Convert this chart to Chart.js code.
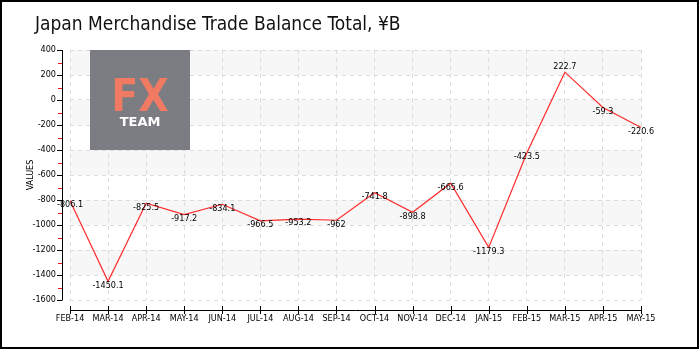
<!DOCTYPE html>
<html>
<head>
<meta charset="utf-8">
<script src="https://cdn.jsdelivr.net/npm/chart.js@4"></script>
<style>
  html, body { margin: 0; padding: 0; background: #fff; }
  #wrap { width: 700px; height: 350px; position: relative; }
</style>
</head>
<body>
<div id="wrap"><canvas id="chart" width="700" height="350"></canvas></div>
<script>
const chartTitle = "Japan Merchandise Trade Balance Total, ¥B";
const axisLabel = "VALUES";
const months = ["FEB-14", "MAR-14", "APR-14", "MAY-14", "JUN-14", "JUL-14", "AUG-14", "SEP-14",
  "OCT-14", "NOV-14", "DEC-14", "JAN-15", "FEB-15", "MAR-15", "APR-15", "MAY-15"];
const balance = [-806.1, -1450.1, -825.5, -917.2, -834.1, -966.5, -953.2, -962,
  -741.8, -898.8, -665.6, -1179.3, -423.5, 222.7, -59.3, -220.6];
const yMin = -1600;
const yMax = 400;
const yStep = 200;

const smallFont = '9px "Liberation Sans Narrow", "DejaVu Sans Condensed", sans-serif';

const decor = {
  id: "decor",
  beforeDraw(chart) {
    const { ctx, chartArea: a, scales: { y } } = chart;
    ctx.save();
    ctx.fillStyle = "#fff";
    ctx.fillRect(0, 0, chart.width, chart.height);
    // alternating bands
    ctx.fillStyle = "#f7f7f7";
    const ticks = y.ticks.map((t) => t.value).sort((p, q) => p - q);
    for (let i = 1; i < ticks.length; i += 2) {
      const top = y.getPixelForValue(ticks[i + 1] ?? ticks[i]);
      const bot = y.getPixelForValue(ticks[i]);
      ctx.fillRect(a.left, top, a.right - a.left, bot - top);
    }
    ctx.restore();
  },
  beforeDatasetsDraw(chart) {
    // FX TEAM logo
    const { ctx, chartArea: a } = chart;
    ctx.save();
    ctx.fillStyle = "#7c7c83";
    ctx.fillRect(a.left + 20, a.top, 100, 100);
    ctx.textAlign = "center";
    ctx.textBaseline = "alphabetic";
    ctx.fillStyle = "#f07a62";
    ctx.font = 'bold 44px "DejaVu Sans Condensed", "DejaVu Sans", sans-serif';
    ctx.fillText("FX", a.left + 70, a.top + 61);
    ctx.fillStyle = "#fff";
    ctx.font = 'bold 13px "DejaVu Sans", sans-serif';
    ctx.fillText("TEAM", a.left + 70, a.top + 76);
    ctx.restore();
  },
  afterDatasetsDraw(chart) {
    const { ctx } = chart;
    const meta = chart.getDatasetMeta(0);
    const top = Math.max(...balance);
    ctx.save();
    ctx.font = smallFont;
    ctx.fillStyle = "#000";
    ctx.textAlign = "center";
    ctx.textBaseline = "middle";
    meta.data.forEach((pt, i) => {
      const dy = balance[i] === top ? -6 : 4;
      ctx.fillText(String(balance[i]), pt.x, pt.y + dy);
    });
    ctx.restore();
  },
  afterDraw(chart) {
    const { ctx, chartArea: a, scales: { x, y } } = chart;
    ctx.save();
    // axes
    const ax = a.left - 8;
    const ay = a.bottom + 10;
    ctx.strokeStyle = "#000";
    ctx.lineWidth = 1;
    ctx.beginPath();
    ctx.moveTo(ax + 0.5, a.top);
    ctx.lineTo(ax + 0.5, a.bottom + 0.5);
    ctx.moveTo(a.left, ay + 0.5);
    ctx.lineTo(a.right, ay + 0.5);
    x.ticks.forEach((t, i) => {
      const px = Math.round(x.getPixelForTick(i)) + 0.5;
      ctx.moveTo(px, ay - 4);
      ctx.lineTo(px, ay + 4);
    });
    y.ticks.forEach((t) => {
      const py = Math.round(y.getPixelForValue(t.value)) + 0.5;
      ctx.moveTo(ax - 5, py);
      ctx.lineTo(ax, py);
    });
    ctx.stroke();
    // minor ticks
    ctx.strokeStyle = "#e8141a";
    ctx.beginPath();
    for (let v = yMin + yStep / 2; v < yMax; v += yStep) {
      const py = Math.round(y.getPixelForValue(v)) + 0.5;
      ctx.moveTo(ax - 4, py);
      ctx.lineTo(ax, py);
    }
    ctx.stroke();
    // title
    ctx.fillStyle = "#111";
    ctx.font = '19px "Liberation Sans Narrow", "DejaVu Sans Condensed", sans-serif';
    ctx.textAlign = "left";
    ctx.textBaseline = "alphabetic";
    ctx.fillText(chartTitle, 35, 30);
    // axis label
    ctx.font = smallFont;
    ctx.fillStyle = "#000";
    ctx.translate(31, (a.top + a.bottom) / 2);
    ctx.rotate(-Math.PI / 2);
    ctx.textAlign = "center";
    ctx.textBaseline = "middle";
    ctx.fillText(axisLabel, 0, 0);
    ctx.restore();
    // frame
    ctx.save();
    ctx.strokeStyle = "#000";
    ctx.lineWidth = 2;
    ctx.strokeRect(1, 1, chart.width - 3, chart.height - 3);
    ctx.restore();
  },
};

const tickFont = { family: '"Liberation Sans Narrow", "DejaVu Sans Condensed", sans-serif', size: 9 };

new Chart(document.getElementById("chart"), {
  type: "line",
  data: {
    labels: months,
    datasets: [
      {
        label: "Balance",
        data: balance,
        borderColor: "#ff2b2b",
        borderWidth: 1.2,
        pointRadius: 0,
        tension: 0,
        fill: false,
      },
    ],
  },
  options: {
    responsive: false,
    animation: false,
    layout: { padding: { top: 50, right: 59, left: 0, bottom: 0 } },
    plugins: { legend: { display: false }, tooltip: { enabled: false } },
    scales: {
      x: {
        offset: false,
        grid: { color: "#dcdcdc", drawTicks: false },
        border: { display: false, dash: [4, 4] },
        ticks: { font: tickFont, color: "#000", padding: 13, maxRotation: 0, autoSkip: false },
        afterFit: (s) => { s.height = 50; },
      },
      y: {
        min: yMin,
        max: yMax,
        grid: { color: "#dcdcdc", drawTicks: false },
        border: { display: false, dash: [4, 4] },
        ticks: { stepSize: yStep, font: tickFont, color: "#000", padding: 14, callback: (v) => String(v) },
        afterFit: (s) => { s.width = 70; },
      },
    },
  },
  plugins: [decor],
});
</script>
</body>
</html>
